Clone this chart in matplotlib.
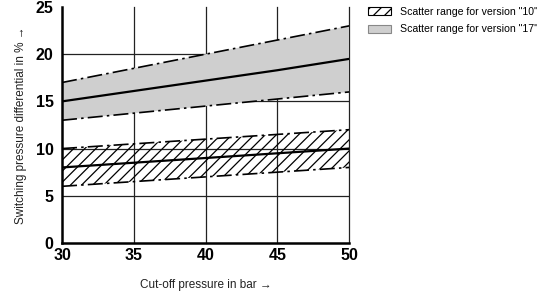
import matplotlib.pyplot as plt
from matplotlib.patches import Patch

plt.rcParams['font.family'] = ['Liberation Sans', 'DejaVu Sans']
plt.rcParams['hatch.linewidth'] = 0.9

# Cut-off pressure in bar
pressure = [30, 35, 40, 45, 50]

# Version "17" scatter range
v17_upper = [17.0, 18.5, 20.0, 21.5, 23.0]
v17_mid = [15.0, 16.1, 17.2, 18.3, 19.5]
v17_lower = [13.0, 13.75, 14.5, 15.25, 16.0]

# Version "10" scatter range
v10_upper = [10.0, 10.5, 11.0, 11.5, 12.0]
v10_mid = [8.0, 8.5, 9.0, 9.5, 10.0]
v10_lower = [6.0, 6.5, 7.0, 7.5, 8.0]

xticks = [30, 35, 40, 45, 50]
yticks = [0, 5, 10, 15, 20, 25]
legend_labels = ['Scatter range for version "10"', 'Scatter range for version "17"']

dashdot = (0, (9, 2.5, 1.5, 2.5))

fig = plt.figure(figsize=(5.37, 2.92), dpi=100)
ax = fig.add_axes([0.1155, 0.168, 0.5345, 0.808])

# grid
for x in xticks[1:]:
    ax.axvline(x, color='#222222', lw=0.9, zorder=1, clip_on=False)
for y in yticks[1:-1]:
    ax.axhline(y, color='#222222', lw=0.9, zorder=1)

# version 17 band
ax.fill_between(pressure, v17_lower, v17_upper, facecolor='#cfcfcf', edgecolor='none', zorder=2)
ax.plot(pressure, v17_upper, color='black', lw=1.2, linestyle=dashdot, zorder=3)
ax.plot(pressure, v17_lower, color='black', lw=1.2, linestyle=dashdot, zorder=3)
ax.plot(pressure, v17_mid, color='black', lw=1.6, zorder=3)

# version 10 band
ax.fill_between(pressure, v10_lower, v10_upper, facecolor='none', edgecolor='black',
                hatch='///', linewidth=0, zorder=2)
ax.plot(pressure, v10_upper, color='black', lw=1.2, linestyle=dashdot, zorder=3)
ax.plot(pressure, v10_lower, color='black', lw=1.2, linestyle=dashdot, zorder=3)
ax.plot(pressure, v10_mid, color='black', lw=1.6, zorder=3)

ax.set_xlim(30, 50)
ax.set_ylim(0, 25)
ax.set_xticks(xticks)
ax.set_yticks(yticks)
ax.tick_params(axis='x', length=0, labelsize=11.5, pad=4)
ax.tick_params(axis='y', length=0, labelsize=11.5, pad=6)
for lab in ax.get_xticklabels() + ax.get_yticklabels():
    lab.set_fontweight('bold')

for s in ['top', 'right']:
    ax.spines[s].set_visible(False)
ax.spines['left'].set_linewidth(1.8)
ax.spines['bottom'].set_linewidth(1.8)

ax.set_xlabel('Cut-off pressure in bar \u2192', fontsize=8.5, labelpad=11, color='#222222')
ax.set_ylabel('Switching pressure differential in % \u2192', fontsize=8.5, labelpad=6, color='#222222')

handles = [Patch(facecolor='white', edgecolor='black', hatch='///', lw=0.8),
           Patch(facecolor='#cfcfcf', edgecolor='#888888', lw=0.8)]
fig.legend(handles, legend_labels, loc='upper left', bbox_to_anchor=(0.668, 1.01),
           frameon=False, fontsize=7.6, handlelength=2.2, handleheight=0.8,
           handletextpad=0.8, labelspacing=0.75)

fig.savefig('out.png', dpi=100)
